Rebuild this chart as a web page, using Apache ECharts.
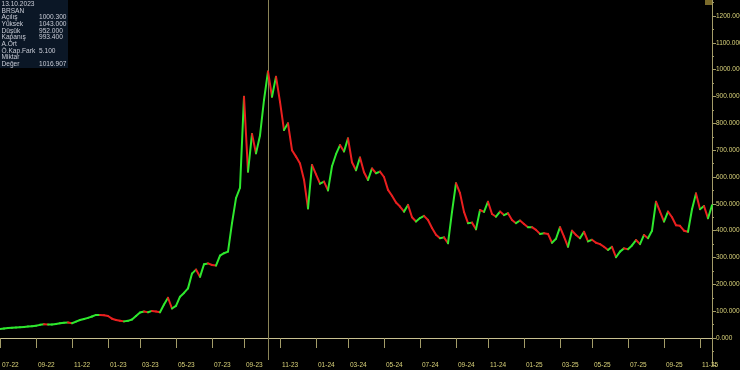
<!DOCTYPE html>
<html><head><meta charset="utf-8">
<script src="https://cdn.jsdelivr.net/npm/echarts@6/dist/echarts.min.js"></script>
<style>html,body{margin:0;padding:0;background:#000}#c{width:740px;height:370px}</style>
</head><body><div id="c"></div>
<script>
// Weekly closes (Fridays) starting 2022-07-01
const startDate = '2022-07-01';
const closes = [
  34,35,37,38,39,40,41,43,44,46,
  49,51,50,50,52,55,57,58,55,61,
  67,71,75,80,86,86,85,82,72,67,
  64,62,64,69,82,95,99,96,101,99,
  96,125,150,110,120,154,168,185,240,255,
  228,275,278,272,270,307,316,322,428,521,
  560,899,620,760,688,755,887,993.4,899,974,
  880,775,800,700,676,650,590,483,645,610,
  575,583,550,640,685,719,695,744,655,625,
  673,618,589,632,614,620,600,552,530,505,
  490,471,496,450,434,447,455,440,410,385,
  372,375,353,470,577,540,470,428,430,405,
  477,470,508,462,452,471,458,465,440,428,
  438,425,413,413,403,388,390,388,355,370,
  413,378,340,400,384,372,396,360,366,355,
  350,340,328,340,301,322,334,331,345,365,
  350,384,372,400,508,471,434,471,450,420,
  418,400,396,480,539,480,492,446,494.25
];
const labelMonths = ['01','03','05','07','09','11'];
const infoDate = '13.10.2023';
const infoSymbol = 'BRSAN';
const infoLabels = ['Açılış','Yüksek','Düşük','Kapanış','A.Ort','Ö.Kap.Fark','Miktar','Değer'];
const infoValues = ['1000.300','1043.000','952.000','993.400','','5.100','','1016.907'];
const crossDate = '2023-10-13';
const lastPrice = 494.25;

const GREEN = '#2ee82e', RED = '#ea1f1f';
const AXIS = '#a39c68', LABEL = '#d9d27a', FONT = '"Liberation Sans", Arial, sans-serif';

const dates = [];
{ let t = Date.parse(startDate + 'T00:00:00Z');
  for (let i = 0; i < closes.length; i++) { dates.push(new Date(t).toISOString().slice(0,10)); t += 7*864e5; } }
const showLabel = (idx) => {
  const m = dates[idx].slice(5,7);
  return labelMonths.includes(m) && (idx === 0 || dates[idx-1].slice(5,7) !== m);
};
const segData = closes.map((c,i) => [i, i ? closes[i-1] : c, c]);

const graphic = [
  {type:'rect', left:0, top:0, shape:{width:68, height:68}, style:{fill:'#0b1726'}, z:10},
  {type:'rect', left:705, top:0, shape:{width:7, height:5}, style:{fill:'#7a6a2a'}, z:10}
];
const rows = [[infoDate,''],[infoSymbol,'']].concat(infoLabels.map((l,i)=>[l, infoValues[i]]));
rows.forEach((r,i) => {
  const y = 4.3 + i*6.63;
  graphic.push({type:'text', x:1.5, y:y, style:{text:r[0], fill:'#c9ccd6', font:'6.6px ' + FONT, textVerticalAlign:'middle'}, z:11});
  if (r[1]) graphic.push({type:'text', x:39, y:y, style:{text:r[1], fill:'#c9ccd6', font:'6.6px ' + FONT, textVerticalAlign:'middle'}, z:11});
});

const chart = echarts.init(document.getElementById('c'), null, {renderer:'canvas'});
chart.setOption({
  animation:false,
  backgroundColor:'#000',
  grid:{left:0, right:28, top:-10.83, height:375.67, containLabel:false, outerBoundsMode:'none'},
  xAxis:{
    type:'category', data:dates, boundaryGap:false, offset:-4.83,
    axisLine:{show:true, lineStyle:{color:'#c8c090', width:1}},
    axisTick:{show:true, length:10, interval:(idx)=>showLabel(idx), lineStyle:{color:AXIS}},
    axisLabel:{show:true, interval:(idx)=>showLabel(idx), formatter:(v)=>v.slice(5,7)+'-'+v.slice(2,4),
      color:LABEL, fontSize:6.5, fontFamily:FONT, align:'left', margin:2, padding:[0,0,0,2]},
    splitLine:{show:false}
  },
  yAxis:{
    type:'value', position:'right', min:-100, max:1300, interval:100,
    axisLine:{show:true, lineStyle:{color:AXIS}},
    axisTick:{show:true, length:4, lineStyle:{color:AXIS}},
    minorTick:{show:true, splitNumber:2, length:2, lineStyle:{color:AXIS}},
    splitLine:{show:false}, minorSplitLine:{show:false},
    axisLabel:{color:LABEL, fontSize:6.5, fontFamily:FONT, margin:4,
      formatter:(v)=> (v<0 || v>1200) ? '' : v.toFixed(3)}
  },
  graphic: graphic,
  series:[
    {
      type:'line', data:closes, symbol:'none', silent:true,
      lineStyle:{opacity:0}, z:1,
      markLine:{
        silent:true, symbol:'none', animation:false,
        data:[
          [{coord:[crossDate, 1300], lineStyle:{color:'#8a8458', width:1, type:'solid'}, label:{show:false}},
           {coord:[crossDate, -82]}],
          {yAxis:lastPrice, lineStyle:{opacity:0},
           label:{show:true, position:'end', distance:1, formatter:lastPrice.toFixed(3),
             backgroundColor:'#e8e23c', color:'#000', fontSize:6.5, fontFamily:FONT, padding:[2,2,2,2]}}
        ]
      }
    },
    {
      type:'custom', data:segData, encode:{x:0, y:2}, z:5,
      renderItem:(params, api) => {
        const i = api.value(0);
        if (i === 0) return null;
        const a = api.coord([i-1, api.value(1)]);
        const b = api.coord([i, api.value(2)]);
        const up = api.value(2) >= api.value(1);
        return {type:'line', shape:{x1:a[0], y1:a[1], x2:b[0], y2:b[1]},
          style:{stroke: up ? GREEN : RED, lineWidth:2, lineCap:'round'}};
      }
    }
  ]
});
</script>
</body></html>
